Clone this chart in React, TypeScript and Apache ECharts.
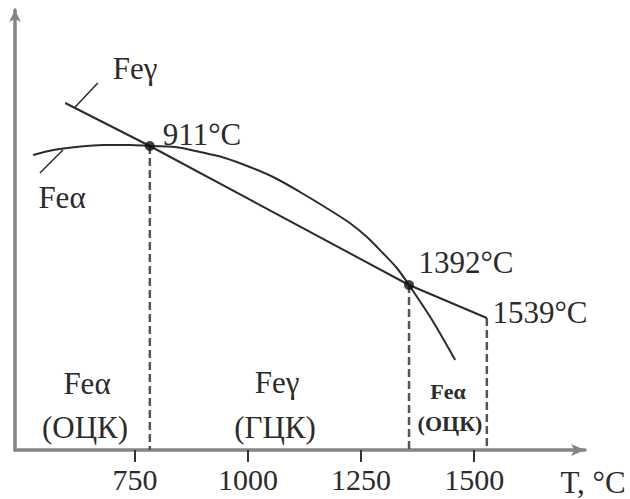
import React, { useEffect, useRef } from "react";
import * as echarts from "echarts";

// Temperature (axis units) and relative free energy for each curve
const gammaT = [596, 783, 1356, 1528];
const gammaG = [347, 304, 165, 132];

const alphaT = [525, 570, 620, 680, 740, 783, 839, 894, 949, 1004, 1060, 1115, 1170, 1225, 1263, 1298, 1329, 1356, 1407, 1458];
const alphaG = [295, 300, 303, 305, 305, 304, 303, 298, 292, 283, 272, 258, 243, 227, 213, 197, 182, 165, 130, 90];

// transition points (911 °C, 1392 °C) and melting point (1539 °C)
const dropT = [783, 1356, 1528];
const dropG = [304, 165, 132];
const dotT = [783, 1356];
const dotG = [304, 165];

// leader lines from the curve names to the curves
const leaderGammaT = [618, 668];
const leaderGammaG = [343, 367];
const leaderAlphaT = [591, 540];
const leaderAlphaG = [300, 277];

const tickValues = [750, 1000, 1250, 1500];

const labelTexts = ["Feγ", "911°C", "Feα", "Feα", "(ОЦК)", "Feγ", "(ГЦК)", "Feα", "(ОЦК)", "1392°C", "1539°C", "T, °C"];

const FONT = "'Liberation Serif', 'Times New Roman', serif";
const INK = "#2b2b2b";

const pairs = (xs: number[], ys: number[]) => xs.map((x, i) => [x, ys[i]]);

export default function App() {
  const ref = useRef<HTMLDivElement>(null);
  useEffect(() => {
    if (!ref.current) return;
    const chart = echarts.init(ref.current, null, { renderer: "svg" });

    const labelPos: [number, number, number, boolean][] = [
      [135, 68, 31, false],
      [202, 134, 31, false],
      [62, 197, 31, false],
      [87, 383, 31, false],
      [85, 427, 31, false],
      [277, 382, 31, false],
      [275, 427, 31, false],
      [448, 391, 22, true],
      [450, 423, 22, true],
      [466, 262, 31, false],
      [540, 312, 31, false],
      [593, 482, 31, false],
    ];

    const graphics = labelTexts.map((t, i) => {
      const [x, y, s, b] = labelPos[i];
      return {
        type: "text",
        x,
        y,
        silent: true,
        style: {
          text: t,
          fill: INK,
          font: `${b ? "bold " : ""}${s}px ${FONT}`,
          align: "center",
          verticalAlign: "middle",
        },
      };
    });

    const lineStyleSolid = { color: INK, width: 2 };

    const dropSeries = dropT.map((t, i) => ({
      type: "line",
      data: [
        [t, dropG[i]],
        [t, 0],
      ],
      symbol: "none",
      lineStyle: { color: "#555", width: 2.5, type: [8, 4] },
      z: 1,
    }));

    chart.setOption({
      animation: false,
      backgroundColor: "#ffffff",
      grid: { left: 15, right: 45, top: 10, bottom: 49 },
      xAxis: {
        type: "value",
        min: 485,
        max: 1745,
        splitLine: { show: false },
        axisLine: {
          show: true,
          lineStyle: { color: "#858585", width: 3.5 },
          symbol: ["none", "arrow"],
          symbolSize: [9, 14],
        },
        axisTick: {
          show: true,
          customValues: tickValues,
          length: 12,
          lineStyle: { color: "#333", width: 2 },
        },
        axisLabel: {
          customValues: tickValues,
          formatter: (v: number) => String(v),
          margin: 14,
          fontSize: 30,
          fontFamily: FONT,
          color: INK,
        },
      },
      yAxis: {
        type: "value",
        min: 0,
        max: 440,
        splitLine: { show: false },
        axisLabel: { show: false },
        axisTick: { show: false },
        axisLine: {
          show: true,
          lineStyle: { color: "#858585", width: 3.5 },
          symbol: ["none", "arrow"],
          symbolSize: [9, 12],
        },
      },
      series: [
        ...dropSeries,
        {
          type: "line",
          data: pairs(gammaT, gammaG),
          symbol: "none",
          lineStyle: lineStyleSolid,
          z: 3,
        },
        {
          type: "line",
          data: pairs(alphaT, alphaG),
          symbol: "none",
          smooth: 0.3,
          lineStyle: lineStyleSolid,
          z: 3,
        },
        {
          type: "line",
          data: pairs(leaderGammaT, leaderGammaG),
          symbol: "none",
          lineStyle: { color: INK, width: 1.5 },
        },
        {
          type: "line",
          data: pairs(leaderAlphaT, leaderAlphaG),
          symbol: "none",
          lineStyle: { color: INK, width: 1.5 },
        },
        {
          type: "scatter",
          data: pairs(dotT, dotG),
          symbolSize: 10,
          itemStyle: { color: "#111" },
          z: 5,
        },
      ],
      graphic: graphics,
    });

    return () => chart.dispose();
  }, []);

  return (
    <div
      ref={ref}
      style={{ position: "fixed", left: 0, top: 0, width: 630, height: 499, background: "#fff" }}
    />
  );
}
